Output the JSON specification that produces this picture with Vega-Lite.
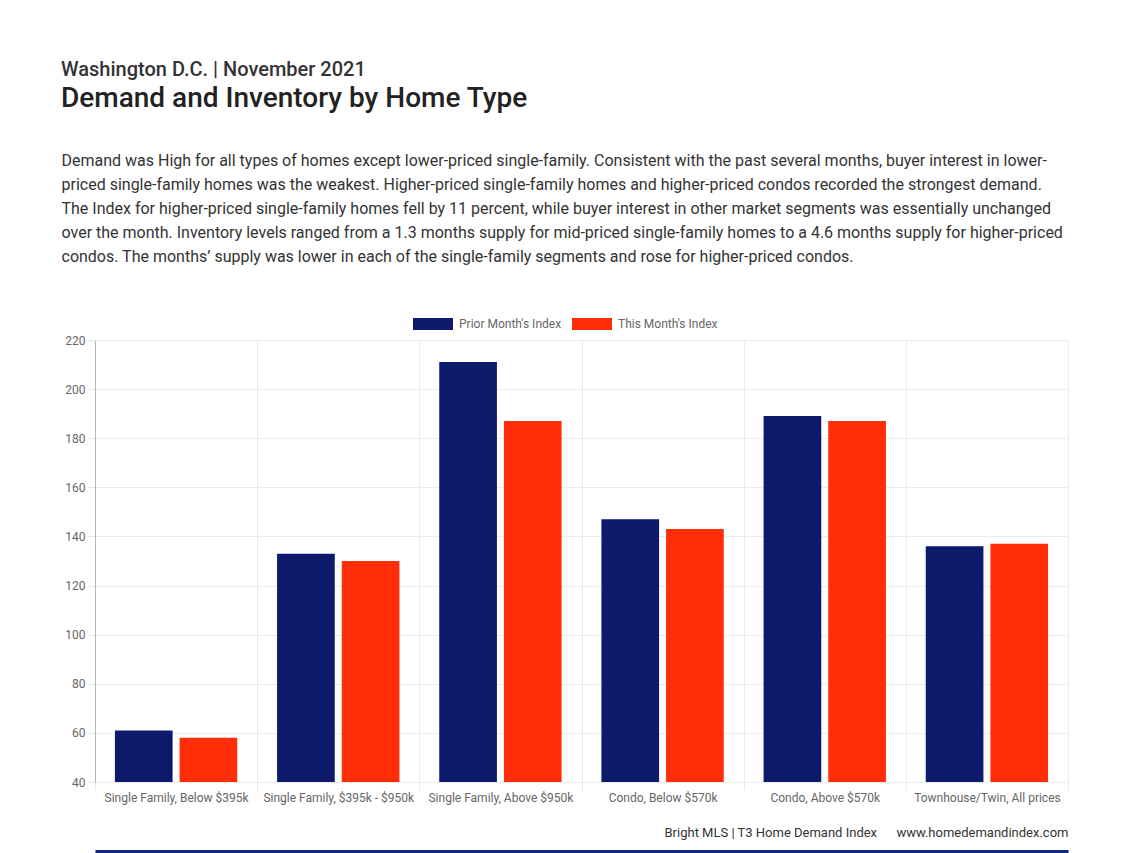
{
  "$schema": "https://vega.github.io/schema/vega-lite/v6.json",
  "width": 973,
  "height": 442,
  "autosize": {"type": "none"},
  "padding": {"left": 95, "top": 340, "right": 72, "bottom": 71},
  "background": "#ffffff",
  "config": {
    "font": "Roboto",
    "view": {"stroke": null},
    "axis": {"labelFont": "Roboto", "titleFont": "Roboto"},
    "legend": {"labelFont": "Roboto"}
  },
  "title": {
    "text": "Washington D.C. | November 2021",
    "subtitle": "Demand and Inventory by Home Type",
    "anchor": "start",
    "frame": "bounds",
    "font": "Roboto",
    "fontSize": 20,
    "fontWeight": 500,
    "color": "#333333",
    "subtitleFont": "Roboto",
    "subtitleFontSize": 28,
    "subtitleFontWeight": 500,
    "subtitleColor": "#222222",
    "subtitlePadding": 5,
    "offset": 39
  },
  "data": {
    "values": [
      {"category": "Single Family, Below $395k", "series": "Prior Month's Index", "value": 61},
      {"category": "Single Family, Below $395k", "series": "This Month's Index", "value": 58},
      {"category": "Single Family, $395k - $950k", "series": "Prior Month's Index", "value": 133},
      {"category": "Single Family, $395k - $950k", "series": "This Month's Index", "value": 130},
      {"category": "Single Family, Above $950k", "series": "Prior Month's Index", "value": 211},
      {"category": "Single Family, Above $950k", "series": "This Month's Index", "value": 187},
      {"category": "Condo, Below $570k", "series": "Prior Month's Index", "value": 147},
      {"category": "Condo, Below $570k", "series": "This Month's Index", "value": 143},
      {"category": "Condo, Above $570k", "series": "Prior Month's Index", "value": 189},
      {"category": "Condo, Above $570k", "series": "This Month's Index", "value": 187},
      {"category": "Townhouse/Twin, All prices", "series": "Prior Month's Index", "value": 136},
      {"category": "Townhouse/Twin, All prices", "series": "This Month's Index", "value": 137}
    ]
  },
  "resolve": {"axis": {"x": "independent"}},
  "layer": [
    {
      "mark": {"type": "bar", "clip": true},
      "encoding": {
        "x": {
          "field": "category",
          "type": "nominal",
          "sort": null,
          "scale": {"paddingInner": 0, "paddingOuter": 0},
          "axis": {
            "orient": "bottom",
            "labelAngle": 0,
            "labelFontSize": 12,
            "labelColor": "#666666",
            "labelPadding": 2,
            "tickBand": "extent",
            "ticks": true,
            "tickSize": 8,
            "tickColor": "#e6e6e6",
            "grid": true,
            "gridColor": "#ebebeb",
            "domain": false,
            "title": "Bright MLS | T3 Home Demand Index\u00a0\u00a0\u00a0\u00a0\u00a0\u00a0www.homedemandindex.com",
            "titleAnchor": "end",
            "titleFontSize": 13,
            "titleFontWeight": "normal",
            "titleColor": "#333333",
            "titlePadding": 23
          }
        },
        "xOffset": {
          "field": "series",
          "type": "nominal",
          "scale": {"domain": ["Prior Month's Index", "This Month's Index"], "paddingInner": 0.108, "paddingOuter": 0.308}
        },
        "y": {
          "field": "value",
          "type": "quantitative",
          "scale": {"domain": [40, 220], "zero": false, "nice": false},
          "axis": {
            "values": [40, 60, 80, 100, 120, 140, 160, 180, 200, 220],
            "labelFontSize": 12,
            "labelColor": "#666666",
            "labelPadding": 2,
            "tickSize": 8,
            "tickColor": "#e6e6e6",
            "grid": true,
            "gridColor": "#ebebeb",
            "domain": true,
            "domainColor": "#b5b5b5",
            "title": [
              "Demand was High for all types of homes except lower-priced single-family. Consistent with the past several months, buyer interest in lower-",
              "priced single-family homes was the weakest. Higher-priced single-family homes and higher-priced condos recorded the strongest demand.",
              "The Index for higher-priced single-family homes fell by 11 percent, while buyer interest in other market segments was essentially unchanged",
              "over the month. Inventory levels ranged from a 1.3 months supply for mid-priced single-family homes to a 4.6 months supply for higher-priced",
              "condos. The months\u2019 supply was lower in each of the single-family segments and rose for higher-priced condos."
            ],
            "titleAngle": 0,
            "titleAlign": "left",
            "titleBaseline": "alphabetic",
            "titleX": -34,
            "titleY": -175,
            "titleFontSize": 16,
            "titleFontWeight": "normal",
            "titleColor": "#333333",
            "titleLineHeight": 24
          }
        },
        "color": {
          "field": "series",
          "type": "nominal",
          "scale": {"domain": ["Prior Month's Index", "This Month's Index"], "range": ["#0d196b", "#ff2d08"]},
          "legend": {
            "orient": "none",
            "legendX": 318,
            "legendY": -36,
            "direction": "horizontal",
            "title": null,
            "symbolType": "M-1,-0.3H1V0.3H-1Z",
            "symbolSize": 1600,
            "symbolStrokeWidth": 0,
            "labelFontSize": 12,
            "labelColor": "#666666",
            "labelOffset": 6,
            "columnPadding": 10
          }
        }
      }
    },
    {
      "mark": {"type": "bar", "opacity": 0},
      "encoding": {
        "x": {
          "field": "category",
          "type": "nominal",
          "sort": null,
          "axis": {
            "orient": "bottom",
            "offset": 69,
            "domain": true,
            "domainColor": "#0a2878",
            "domainWidth": 3,
            "labels": false,
            "ticks": false,
            "grid": false,
            "title": null
          }
        },
        "xOffset": {"field": "series", "type": "nominal"},
        "y": {"field": "value", "type": "quantitative"}
      }
    }
  ]
}
